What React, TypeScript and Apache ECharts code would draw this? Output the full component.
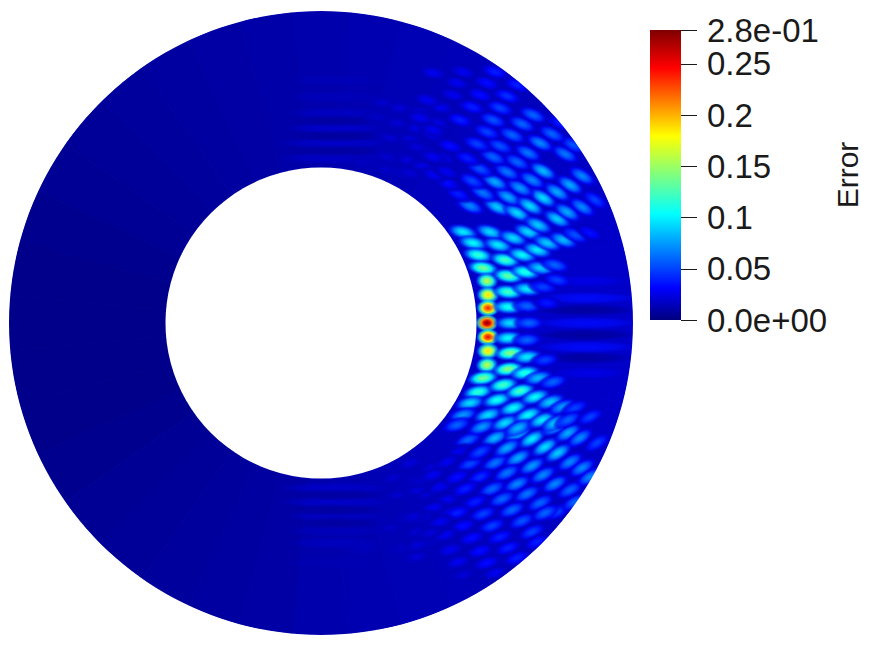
import React, { useEffect, useRef } from "react";
import * as echarts from "echarts";

const INNER_RADIUS = 155.5;
const OUTER_RADIUS = 312;
const MAX_ERROR = 0.283;

const tickValues = [0, 0.05, 0.1, 0.15, 0.2, 0.25];
const tickLabels = ["0.0e+00", "0.05", "0.1", "0.15", "0.2", "0.25"];
const topTickValues = [0.283];
const topTickLabels = ["2.8e-01"];
const jetStops: [number, number[]][] = [
  [0, [0, 0, 127]],
  [0.11, [0, 0, 255]],
  [0.365, [0, 255, 255]],
  [0.5, [127, 255, 127]],
  [0.635, [255, 255, 0]],
  [0.87, [255, 0, 0]],
  [1, [127, 0, 0]],
];

// background error level, one value per 10 degrees, counter-clockwise from east
const baseAngles = [0, 10, 20, 30, 40, 50, 60, 70, 80, 90, 100, 110, 120, 130, 140, 150, 160, 170, 180, 190, 200, 210, 220, 230, 240, 250, 260, 270, 280, 290, 300, 310, 320, 330, 340, 350];
const baseLevels = [0.018, 0.018, 0.018, 0.017, 0.016, 0.015, 0.014, 0.013, 0.012, 0.011, 0.01, 0.009, 0.008, 0.007, 0.006, 0.005, 0.004, 0.003, 0.003, 0.003, 0.003, 0.004, 0.005, 0.006, 0.007, 0.008, 0.009, 0.011, 0.012, 0.013, 0.014, 0.015, 0.016, 0.017, 0.018, 0.018];

// light and dark bands: x, y, half length, error
const bands = [
  [265, 25, 52, 0.034], [265, 0, 55, 0.034], [265, -24, 52, 0.034],
  [265, 13, 55, 0.006], [265, -12, 55, 0.006], [265, -35, 50, 0.007],
  [265, 42, 40, 0.026], [268, -50, 36, 0.026],
  [14, 195, 50, 0.02], [14, 180, 58, 0.019], [14, 165, 60, 0.018], [14, 210, 50, 0.017], [14, 226, 50, 0.015], [14, 243, 50, 0.014],
  [14, 187, 48, 0.007], [14, 172, 52, 0.008], [14, 202, 44, 0.008],
  [14, -165, 58, 0.019], [14, -179, 58, 0.019], [14, -193, 52, 0.017], [14, -208, 50, 0.015], [14, -220, 50, 0.016], [14, -240, 50, 0.013],
  [14, -172, 52, 0.008], [14, -187, 52, 0.008], [14, -200, 44, 0.008],
];

// error maxima east of the hole: x, y, error
const eastPeaks = [
  [142, 91, 0.1], [152, 80, 0.105], [157, 68, 0.12], [162, 55, 0.14], [166, 42, 0.16], [167, 28, 0.19], [167, 15, 0.24], [166, 0, 0.283], [167, -14, 0.25], [167, -28, 0.19], [166, -42, 0.16], [162, -55, 0.14], [157, -69, 0.12], [149, -80, 0.095], [142, -92, 0.075], [136, -102, 0.06],
  [169, 91, 0.095], [177, 78, 0.1], [184, 63, 0.125], [187, 47, 0.135], [187, 31, 0.125], [187, 16, 0.11], [189, 0, 0.095], [187, -15, 0.105], [189, -30, 0.145], [187, -46, 0.145], [182, -62, 0.125], [176, -77, 0.11], [167, -92, 0.095], [161, -104, 0.075],
  [192, 85, 0.095], [201, 68, 0.105], [204, 51, 0.115], [206, 34, 0.1], [206, 17, 0.06], [208, 0, 0.06], [206, -17, 0.06], [206, -34, 0.1], [204, -50, 0.115], [199, -68, 0.125], [192, -85, 0.105], [184, -100, 0.095],
  [207, 91, 0.095], [216, 73, 0.1], [219, 55, 0.09], [222, 36, 0.05], [226, 20, 0.038], [224, -37, 0.05], [217, -55, 0.085], [214, -74, 0.105], [207, -92, 0.105], [197, -105, 0.085],
  [217, 98, 0.09], [226, 80, 0.09], [234, 58, 0.06], [236, 43, 0.05], [232, -59, 0.06], [229, -79, 0.09], [221, -97, 0.1],
  [242, 83, 0.085], [241, -84, 0.075], [234, -100, 0.09], [254, 88, 0.055], [254, -85, 0.05], [269, 90, 0.036], [247, -97, 0.06], [269, -94, 0.05],
];

// error maxima north-east of the hole
const northEastPeaks = [
  [149, 117, 0.07], [176, 116, 0.09], [196, 110, 0.095], [236, 104, 0.09], [162, 130, 0.065], [187, 126, 0.08], [209, 117, 0.095], [222, 125, 0.095], [246, 111, 0.08], [261, 116, 0.07],
  [137, 129, 0.04], [174, 141, 0.08], [199, 135, 0.075], [236, 131, 0.08], [151, 142, 0.052], [186, 151, 0.065], [211, 143, 0.07], [222, 152, 0.085], [249, 138, 0.08], [274, 123, 0.05],
  [159, 154, 0.055], [196, 161, 0.06], [261, 147, 0.07], [172, 166, 0.06], [207, 170, 0.065], [244, 169, 0.065], [146, 165, 0.04], [179, 177, 0.055], [219, 180, 0.07], [252, 178, 0.055],
  [129, 177, 0.035], [156, 179, 0.05], [191, 188, 0.06], [231, 189, 0.06], [166, 191, 0.05], [201, 199, 0.06], [212, 208, 0.06], [172, 203, 0.055], [239, 200, 0.04], [139, 203, 0.04],
  [151, 216, 0.04], [179, 215, 0.05], [186, 227, 0.045], [174, 251, 0.04], [159, 228, 0.035], [132, 228, 0.028], [112, 250, 0.028], [142, 251, 0.028], [196, 238, 0.04], [166, 240, 0.035],
  [136, 240, 0.028], [119, 216, 0.028], [106, 223, 0.028], [99, 205, 0.028], [112, 193, 0.028], [96, 176, 0.022], [112, 166, 0.028], [126, 140, 0.035], [112, 148, 0.028], [89, 150, 0.022], [126, 151, 0.028],
];

// error maxima south-east of the hole
const southEastPeaks = [
  [147, -117, 0.06], [174, -115, 0.085], [197, -110, 0.095], [211, -116, 0.1], [224, -124, 0.095], [247, -110, 0.08], [234, -104, 0.09], [259, -115, 0.07],
  [149, -141, 0.052], [174, -140, 0.065], [197, -135, 0.08], [211, -143, 0.075], [237, -130, 0.09], [249, -139, 0.07], [261, -145, 0.07], [276, -120, 0.05],
  [159, -129, 0.052], [186, -125, 0.08], [159, -154, 0.045], [186, -150, 0.065], [222, -152, 0.07], [234, -161, 0.07], [249, -167, 0.06], [269, -154, 0.07],
  [144, -166, 0.04], [171, -166, 0.06], [196, -161, 0.07], [206, -171, 0.065], [219, -180, 0.06], [236, -189, 0.05], [254, -179, 0.06], [154, -179, 0.04], [181, -176, 0.06], [191, -187, 0.06],
  [162, -191, 0.05], [201, -198, 0.055], [224, -190, 0.06], [211, -209, 0.05], [119, -164, 0.028], [136, -190, 0.04], [112, -185, 0.028], [171, -203, 0.05], [142, -203, 0.035], [119, -199, 0.028],
  [179, -214, 0.04], [151, -215, 0.035], [124, -212, 0.028], [187, -225, 0.04], [159, -228, 0.035], [129, -227, 0.028], [216, -219, 0.04], [196, -235, 0.04], [166, -240, 0.035], [137, -239, 0.028],
  [174, -250, 0.028], [142, -252, 0.022], [96, -167, 0.022], [102, -157, 0.022], [112, -152, 0.028], [137, -129, 0.028], [126, -139, 0.028], [134, -102, 0.04], [136, -154, 0.035],
  [102, -194, 0.022], [92, -194, 0.022], [109, -210, 0.022], [97, -222, 0.022], [96, -234, 0.022],
];

// faint maxima north and south of the hole
const faintPeaks = [
  [62, 220, 0.02], [79, 215, 0.022], [99, 210, 0.024], [119, 215, 0.026], [116, 200, 0.026], [94, 195, 0.024], [76, 200, 0.021], [56, 206, 0.018], [112, 188, 0.026], [89, 183, 0.024], [69, 185, 0.021], [106, 171, 0.026], [86, 163, 0.023], [66, 166, 0.02], [122, 165, 0.028], [102, 156, 0.026], [66, 153, 0.02], [82, 150, 0.023], [116, 146, 0.027], [42, 161, 0.017],
  [89, -140, 0.023], [112, -145, 0.026], [72, -155, 0.02], [96, -157, 0.023], [122, -162, 0.028], [76, -172, 0.02], [106, -170, 0.024], [126, -177, 0.028], [86, -194, 0.021], [112, -187, 0.026], [129, -189, 0.028], [96, -209, 0.021], [119, -200, 0.026], [69, -205, 0.018], [106, -220, 0.021], [129, -225, 0.024], [82, -225, 0.018], [42, -224, 0.016],
];

const jet = (t: number): number[] => {
  const u = Math.max(0, Math.min(1, t));
  for (let i = 1; i < jetStops.length; i++) {
    const [p1, c1] = jetStops[i];
    if (u <= p1) {
      const [p0, c0] = jetStops[i - 1];
      const f = (u - p0) / (p1 - p0);
      return c0.map((c, k) => Math.round(c + (c1[k] - c) * f));
    }
  }
  return jetStops[jetStops.length - 1][1];
};
const rgba = (v: number, a = 1) => {
  const c = jet(v / MAX_ERROR);
  return `rgba(${c[0]},${c[1]},${c[2]},${a})`;
};

// blobs lean along the interference chains: more steeply far from the hole
const tiltOf = (x: number, y: number) => {
  const th = Math.atan2(y, x);
  const a = Math.abs(th);
  const r = Math.hypot(x, y);
  const gain = 0.4 + Math.max(0, (r - 166) / 125);
  const limit = (32 * Math.PI) / 180;
  const t = Math.max(0, Math.min(a * gain, limit, (Math.PI / 2 - a) / 2));
  return th >= 0 ? -t : t;
};

const FLOOR = 0.014;
const shade = (v: number, k: number, a = 1) => rgba(Math.max(Math.min(v, FLOOR), v * k), a);
const blobFill = (v: number) =>
  new echarts.graphic.RadialGradient(0.5, 0.5, 0.5, [
    { offset: 0, color: shade(v, 1) },
    { offset: 0.25, color: shade(v, 0.9) },
    { offset: 0.5, color: shade(v, 0.72, 0.95) },
    { offset: 0.75, color: shade(v, 0.45, 0.7) },
    { offset: 1, color: shade(v, 0.25, 0) },
  ]);

const renderPeak = (params: any, api: any) => {
  const x = api.value(0), y = api.value(1), v = api.value(2);
  const p = api.coord([x, y]);
  const scale = api.size([1, 1])[0];
  const hot = v > 0.15;
  const ry = (hot ? 9 : 8) * scale;
  const rx = (hot ? 12 : 17) * scale;
  return { type: "ellipse", x: p[0], y: p[1], rotation: tiltOf(x, y), shape: { cx: 0, cy: 0, rx, ry }, style: { fill: blobFill(v) } };
};

const renderBand = (params: any, api: any) => {
  const x = api.value(0), y = api.value(1), half = api.value(2), v = api.value(3);
  const p = api.coord([x, y]);
  const scale = api.size([1, 1])[0];
  return {
    type: "ellipse", x: p[0], y: p[1],
    shape: { cx: 0, cy: 0, rx: half * scale, ry: 6 * scale },
    style: {
      fill: new echarts.graphic.RadialGradient(0.5, 0.5, 0.5, [
        { offset: 0, color: rgba(v, 0.9) },
        { offset: 0.6, color: rgba(v, 0.6) },
        { offset: 1, color: rgba(v, 0) },
      ]),
    },
  };
};

const renderBase = (params: any, api: any) => {
  const angle = api.value(0), v = api.value(1);
  const c = api.coord([0, 0]);
  const scale = api.size([1, 1])[0];
  const color = rgba(v);
  return {
    type: "sector",
    shape: {
      cx: c[0], cy: c[1], r: OUTER_RADIUS * scale, r0: INNER_RADIUS * scale,
      startAngle: (-(angle + 5) * Math.PI) / 180, endAngle: (-(angle - 5) * Math.PI) / 180, clockwise: true,
    },
    style: { fill: color, stroke: color, lineWidth: 1 },
  };
};

const renderMask = (params: any, api: any) => {
  const c = api.coord([0, 0]);
  const scale = api.size([1, 1])[0];
  return {
    type: "group",
    children: [
      { type: "circle", shape: { cx: c[0], cy: c[1], r: INNER_RADIUS * scale }, style: { fill: "#ffffff" } },
      { type: "ring", shape: { cx: c[0], cy: c[1], r: (OUTER_RADIUS + 16) * scale, r0: OUTER_RADIUS * scale }, style: { fill: "#ffffff" } },
    ],
  };
};

const fieldSeries = (data: number[][], renderItem: any) => ({
  type: "custom" as const, coordinateSystem: "cartesian2d", xAxisIndex: 0, yAxisIndex: 0,
  encode: { x: 0, y: 1 }, clip: false, silent: true, data, renderItem,
});

const labelFrom = (values: number[], labels: string[]) => (v: number) => {
  const i = values.findIndex((t) => Math.abs(t - v) < 1e-6);
  return i >= 0 ? labels[i] : "";
};

export default function App() {
  const ref = useRef<HTMLDivElement>(null);
  useEffect(() => {
    const chart = echarts.init(ref.current!, undefined, { renderer: "svg" });
    const fontFamily = "'Liberation Sans', Arial, sans-serif";
    const tickStyle = { color: "#1a1a1a", width: 1 };
    const labelStyle = { show: true, margin: 26, showMinLabel: true, showMaxLabel: true, fontFamily, fontSize: 33, color: "#1a1a1a", hideOverlap: false };
    chart.setOption({
      animation: false,
      backgroundColor: "#ffffff",
      grid: [
        { left: 9, top: 11, width: 624, height: 624 },
        { left: 650, top: 30, width: 31, height: 290 },
      ],
      xAxis: [
        { type: "value", gridIndex: 0, min: -OUTER_RADIUS, max: OUTER_RADIUS, show: false },
        { type: "category", gridIndex: 1, data: ["Error"], show: false },
      ],
      yAxis: [
        { type: "value", gridIndex: 0, min: -OUTER_RADIUS, max: OUTER_RADIUS, show: false },
        {
          type: "value", gridIndex: 1, min: 0, max: MAX_ERROR, position: "right",
          name: "Error", nameLocation: "middle", nameRotate: 90, nameGap: 151,
          nameTextStyle: { fontFamily, fontSize: 30, color: "#1a1a1a" },
          splitLine: { show: false }, axisLine: { show: false },
          axisTick: { show: true, length: 16, customValues: tickValues, lineStyle: tickStyle },
          axisLabel: { ...labelStyle, customValues: tickValues, formatter: labelFrom(tickValues, tickLabels) },
        },
        {
          type: "value", gridIndex: 1, min: 0, max: MAX_ERROR, position: "right",
          splitLine: { show: false }, axisLine: { show: false },
          axisTick: { show: true, length: 16, customValues: topTickValues, lineStyle: tickStyle },
          axisLabel: { ...labelStyle, customValues: topTickValues, formatter: labelFrom(topTickValues, topTickLabels) },
        },
        {
          type: "value", gridIndex: 1, min: 0, max: MAX_ERROR, position: "right",
          splitLine: { show: false }, axisLine: { show: false }, axisLabel: { show: false },
          axisTick: { show: true, inside: true, length: 8, customValues: [...tickValues.slice(1), ...topTickValues], lineStyle: { ...tickStyle, opacity: 0.6 } },
        },
      ],
      series: [
        fieldSeries(baseAngles.map((a, i) => [a, baseLevels[i]]), renderBase),
        fieldSeries(bands, renderBand),
        fieldSeries(faintPeaks, renderPeak),
        fieldSeries(northEastPeaks, renderPeak),
        fieldSeries(southEastPeaks, renderPeak),
        fieldSeries(eastPeaks, renderPeak),
        fieldSeries([[0, 0]], renderMask),
        {
          type: "bar", xAxisIndex: 1, yAxisIndex: 1, barWidth: "100%", silent: true, data: [MAX_ERROR],
          itemStyle: {
            color: new echarts.graphic.LinearGradient(0, 1, 0, 0, jetStops.map(([p, c]) => ({ offset: p, color: `rgb(${c[0]},${c[1]},${c[2]})` }))),
          },
        },
      ],
    });
    return () => chart.dispose();
  }, []);
  return <div ref={ref} style={{ position: "fixed", left: 0, top: 0, width: 871, height: 645 }} />;
}
